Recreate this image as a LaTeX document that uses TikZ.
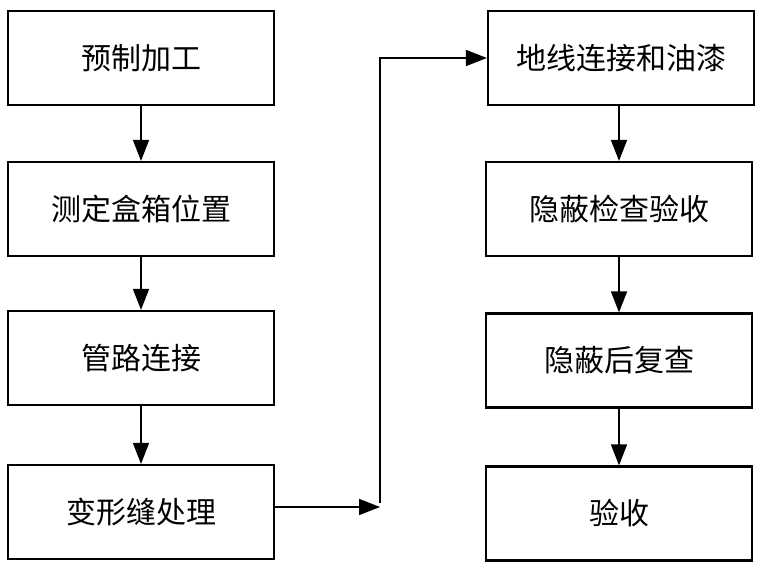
\documentclass[tikz,border=0pt]{standalone}
\usepackage{fontspec}
\newfontfamily\cjk{Noto Sans CJK SC}
\usepackage{tikz}
\usetikzlibrary{arrows.meta}

\begin{document}
\begin{tikzpicture}
		[x=1pt,y=-1pt,line cap=butt,
		%Styles
		step box/.style={draw,line width=2.2pt,minimum width=266pt,minimum height=94pt,inner sep=0pt,font=\cjk\fontsize{30}{32}\selectfont},
		flow arrow/.style={line width=1.6pt,-{Triangle[length=21pt,width=16pt]}}
		]
		
		\useasboundingbox (0,0) rectangle (760,570);
		
		%The graphic
		\node[step box] (prep) at (141,58) {预制加工};
		\node[step box] (measure) at (141,209) {测定盒箱位置};
		\node[step box] (pipe) at (141,358) {管路连接};
		\node[step box] (joint) at (141,512) {变形缝处理};
		
		\node[step box] (ground) at (621,58) {地线连接和油漆};
		\node[step box] (hidden) at (619,209) {隐蔽检查验收};
		\node[step box] (recheck) at (619,360.5) {隐蔽后复查};
		\node[step box] (accept) at (619,513.5) {验收};
		
		\draw[flow arrow] (prep) -- (measure);
		\draw[flow arrow] (measure) -- (pipe);
		\draw[flow arrow] (pipe) -- (joint);
		
		\coordinate (bend) at (380,507);
		\draw[flow arrow] (joint.east |- bend) -- (bend);
		\draw[flow arrow] (380,503) |- (ground.west |- 0,58);
		
		\draw[flow arrow] (ground.south -| hidden) -- (hidden);
		\draw[flow arrow] (hidden) -- (recheck);
		\draw[flow arrow] (recheck) -- (accept);
	\end{tikzpicture}
\end{document}
